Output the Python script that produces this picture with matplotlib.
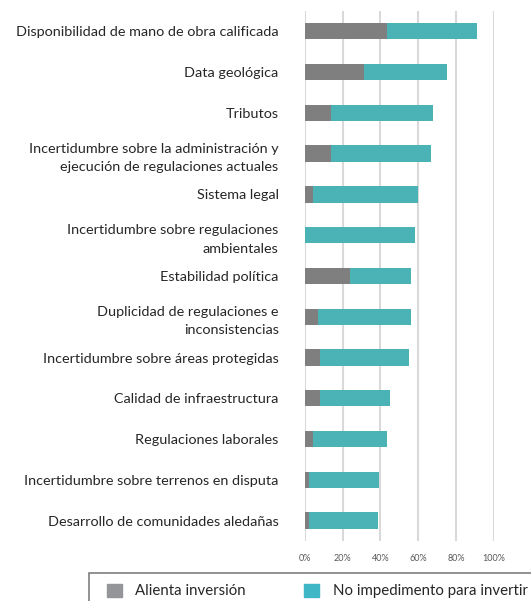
import numpy as np
import matplotlib.pyplot as plt
from matplotlib.patches import Patch, Rectangle

# Data
categorias = [
    'Disponibilidad de mano de obra calificada',
    'Data geológica',
    'Tributos',
    'Incertidumbre sobre la administración y\nejecución de regulaciones actuales',
    'Sistema legal',
    'Incertidumbre sobre regulaciones\nambientales',
    'Estabilidad política',
    'Duplicidad de regulaciones e\ninconsistencias',
    'Incertidumbre sobre áreas protegidas',
    'Calidad de infraestructura',
    'Regulaciones laborales',
    'Incertidumbre sobre terrenos en disputa',
    'Desarrollo de comunidades aledañas',
]
alienta = [43.5, 31, 14, 14, 4, 0, 24, 7, 8, 8, 4.5, 2.3, 2.3]
no_impide = [47.7, 44.5, 54, 53, 56, 58.2, 32.4, 49.4, 47, 37, 39, 37, 36.2]
ticks = [0, 20, 40, 60, 80, 100]
tick_labels = ['0%', '20%', '40%', '60%', '80%', '100%']

gris = '#7f7f7f'
turquesa = '#4bb2b6'

plt.rcParams['font.family'] = ['Lato', 'DejaVu Sans']

fig = plt.figure(figsize=(5.31, 6.01), dpi=100)
ax = fig.add_axes([0.5744, 0.0998, 0.3554, 0.882])

y = np.arange(len(categorias))
ax.barh(y, alienta, height=0.4, color=gris, zorder=3)
ax.barh(y, no_impide, left=alienta, height=0.4, color=turquesa, zorder=3)

ax.set_ylim(len(categorias) - 0.5, -0.5)
ax.set_xlim(0, 100)
ax.set_yticks(y)
ax.set_yticklabels(categorias, fontsize=10.4, color='#262626', ha='right',
                   linespacing=1.65)
ax.set_xticks(ticks)
ax.set_xticklabels(tick_labels, fontsize=6.5, color='#595959')
ax.tick_params(axis='both', length=0)
ax.tick_params(axis='x', pad=9)
ax.tick_params(axis='y', pad=19)
ax.xaxis.grid(True, color='#d9d9d9', linewidth=1.5, zorder=0)
for s in ax.spines.values():
    s.set_visible(False)

# legend box running off the page
fig.patches.append(Rectangle((89 / 531, -0.1), 0.9, (601 - 573) / 601 + 0.1,
                             transform=fig.transFigure, fill=False,
                             edgecolor='#7f7f7f', linewidth=1.2))
handles = [Patch(color='#939598', label='Alienta inversión'),
           Patch(color='#3fb6c6', label='No impedimento para invertir')]
fig.legend(handles=handles, loc='center left', bbox_to_anchor=(93 / 531, 1 - 591 / 601),
           ncol=2, frameon=False, fontsize=10.8, handlelength=1.0, handleheight=1.0,
           columnspacing=3.9, handletextpad=0.9, labelcolor='#262626')

fig.savefig('out.png', dpi=100)
